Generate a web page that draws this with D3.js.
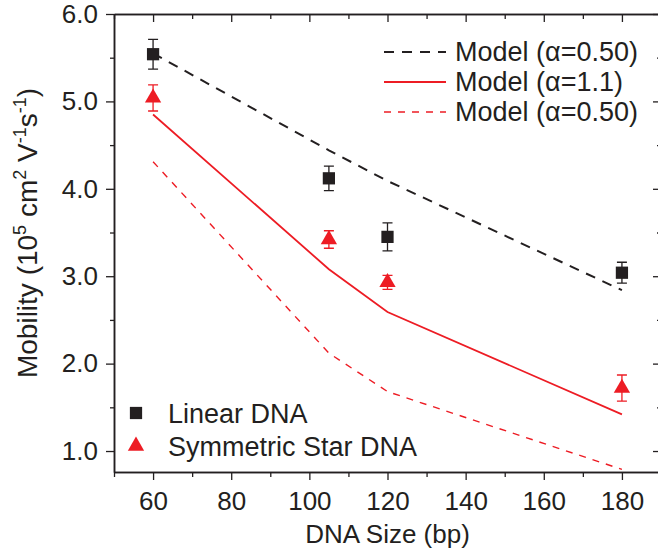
<!DOCTYPE html>
<html>
<head>
<meta charset="utf-8">
<script src="https://cdn.jsdelivr.net/npm/d3@7"></script>
<style>
  body { margin: 0; background: #fff; }
  svg { display: block; font-family: "Liberation Sans", Arial, sans-serif; }
  text { fill: #231f20; }
</style>
</head>
<body>
<svg width="658" height="554"></svg>
<script>
// DNA size (bp)
var sizes = [60, 105, 120, 180];

// measured mobility (10^5 cm^2 V^-1 s^-1)
var linearMob = [5.54, 4.12, 3.45, 3.04];
var linearErr = [0.17, 0.14, 0.16, 0.12];
var starMob = [5.04, 3.42, 2.93, 1.72];
var starErr = [0.15, 0.10, 0.08, 0.15];

// model curves
var modelLinear050 = [5.55, 4.44, 4.09, 2.84];
var modelStar11 = [4.85, 3.08, 2.59, 1.42];
var modelStar050 = [4.31, 2.12, 1.68, 0.79];

var xMajor = [60, 80, 100, 120, 140, 160, 180];
var xMinor = [50, 70, 90, 110, 130, 150, 170, 190];
var yMajor = [1, 2, 3, 4, 5, 6];
var yMinor = [1.5, 2.5, 3.5, 4.5, 5.5];

var black = "#231f20", red = "#ed1c24";

var svg = d3.select("svg");
var pLeft = 114, pRight = 661, pTop = 14, pBottom = 472;

var x = d3.scaleLinear().domain([50, 190]).range([pLeft, pRight]);
var y = d3.scaleLinear().domain([0.76, 6.0]).range([pBottom, pTop]);

// axes: bottom/left outward with labels, top/right inward without
function axisGroup(axis, tx, ty) {
    var g = svg.append("g").attr("transform", "translate(" + tx + "," + ty + ")").call(axis);
    g.select(".domain").attr("stroke", black).attr("stroke-width", 1.5);
    g.selectAll(".tick line").attr("stroke", black).attr("stroke-width", 1.3);
    g.selectAll(".tick text").attr("fill", black).style("font-size", "26px")
        .style("font-family", "'Liberation Sans', Arial, sans-serif");
    return g;
}

axisGroup(d3.axisBottom(x).tickValues(xMajor).tickSize(8).tickSizeOuter(0).tickPadding(12), 0, pBottom);
axisGroup(d3.axisBottom(x).tickValues(xMinor).tickSize(5).tickSizeOuter(0).tickFormat(""), 0, pBottom);
axisGroup(d3.axisTop(x).tickValues(xMajor).tickSize(-8).tickSizeOuter(0).tickFormat(""), 0, pTop);
axisGroup(d3.axisTop(x).tickValues(xMinor).tickSize(-5).tickSizeOuter(0).tickFormat(""), 0, pTop);

axisGroup(d3.axisLeft(y).tickValues(yMajor).tickSize(8).tickSizeOuter(0).tickPadding(8).tickFormat(d3.format(".1f")), pLeft, 0);
axisGroup(d3.axisLeft(y).tickValues(yMinor).tickSize(4).tickSizeOuter(0).tickFormat(""), pLeft, 0);
axisGroup(d3.axisRight(y).tickValues(yMajor).tickSize(-8).tickSizeOuter(0).tickFormat(""), pRight, 0);
axisGroup(d3.axisRight(y).tickValues(yMinor).tickSize(-4).tickSizeOuter(0).tickFormat(""), pRight, 0);

// axis titles
svg.append("text")
    .attr("x", (pLeft + pRight) / 2).attr("y", 543)
    .attr("text-anchor", "middle")
    .style("font-size", "26px")
    .text("DNA Size (bp)");

var ylab = svg.append("text")
    .attr("transform", "translate(37,233) rotate(-90)")
    .attr("text-anchor", "middle")
    .style("font-size", "28px");
ylab.append("tspan").text("Mobility (10");
ylab.append("tspan").attr("dy", -11).style("font-size", "18px").text("5");
ylab.append("tspan").attr("dy", 11).text(" cm");
ylab.append("tspan").attr("dy", -11).style("font-size", "18px").text("2");
ylab.append("tspan").attr("dy", 11).text(" V");
ylab.append("tspan").attr("dy", -11).style("font-size", "18px").text("-1");
ylab.append("tspan").attr("dy", 11).text("s");
ylab.append("tspan").attr("dy", -11).style("font-size", "18px").text("-1");
ylab.append("tspan").attr("dy", 11).text(")");

// model lines
var line = d3.line()
    .x(function (d) { return x(d[0]); })
    .y(function (d) { return y(d[1]); });

var models = [
    { values: modelLinear050, color: black, dash: "10,8", width: 2, label: "Model (\u03b1=0.50)" },
    { values: modelStar11, color: red, dash: null, width: 1.8, label: "Model (\u03b1=1.1)" },
    { values: modelStar050, color: red, dash: "7,7", width: 1.4, label: "Model (\u03b1=0.50)" }
];

models.forEach(function (m) {
    svg.append("path")
        .datum(d3.zip(sizes, m.values))
        .attr("d", line)
        .attr("fill", "none")
        .attr("stroke", m.color)
        .attr("stroke-width", m.width)
        .attr("stroke-dasharray", m.dash);
});

// data with error bars
function drawSeries(vals, errs, color, shape) {
    var g = svg.append("g");
    var pts = d3.zip(sizes, vals, errs);
    g.selectAll(".err").data(pts).enter().append("path")
        .attr("d", function (d) {
            var cx = x(d[0]), y1 = y(d[1] + d[2]), y2 = y(d[1] - d[2]);
            return "M" + cx + "," + y1 + "V" + y2 +
                "M" + (cx - 5) + "," + y1 + "H" + (cx + 5) +
                "M" + (cx - 5) + "," + y2 + "H" + (cx + 5);
        })
        .attr("stroke", color).attr("stroke-width", 1.3).attr("fill", "none");
    g.selectAll(".pt").data(pts).enter().append("path")
        .attr("transform", function (d) { return "translate(" + x(d[0]) + "," + y(d[1]) + ")"; })
        .attr("d", d3.symbol().type(shape).size(shape === d3.symbolSquare ? 150 : 115))
        .attr("fill", color);
}

drawSeries(linearMob, linearErr, black, d3.symbolSquare);
drawSeries(starMob, starErr, red, d3.symbolTriangle);

// top-right legend
models.forEach(function (m, i) {
    var by = 61 + i * 30;
    svg.append("line")
        .attr("x1", 384).attr("x2", 446)
        .attr("y1", by - 9).attr("y2", by - 9)
        .attr("stroke", m.color)
        .attr("stroke-width", m.width)
        .attr("stroke-dasharray", m.dash);
    svg.append("text")
        .attr("x", 455).attr("y", by)
        .style("font-size", "27px")
        .text(m.label);
});

// bottom-left legend
var pointLegend = [
    { label: "Linear DNA", color: black, shape: d3.symbolSquare },
    { label: "Symmetric Star DNA", color: red, shape: d3.symbolTriangle }
];
pointLegend.forEach(function (p, i) {
    var by = 423 + i * 33;
    svg.append("path")
        .attr("transform", "translate(136," + (by - 10) + ")")
        .attr("d", d3.symbol().type(p.shape).size(p.shape === d3.symbolSquare ? 150 : 115))
        .attr("fill", p.color);
    svg.append("text")
        .attr("x", 168).attr("y", by)
        .style("font-size", "27px")
        .text(p.label);
});
</script>
</body>
</html>
